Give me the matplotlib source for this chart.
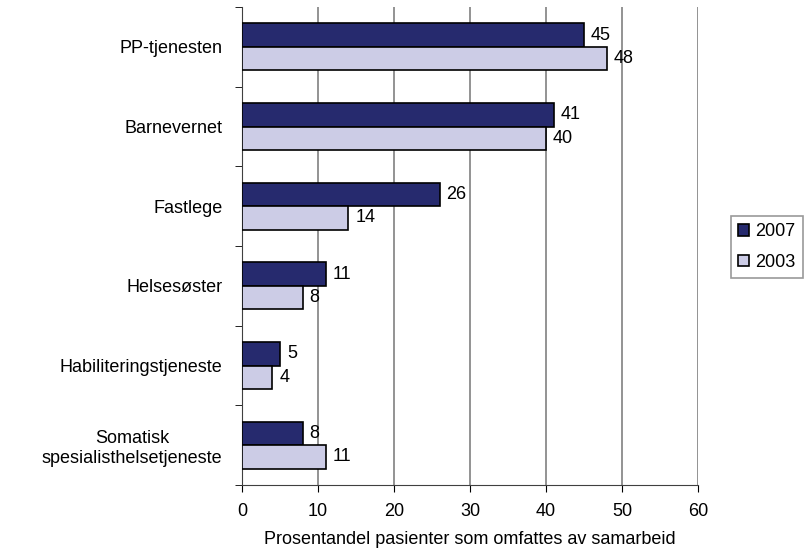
import numpy as np
import matplotlib.pyplot as plt

plt.rcParams['font.family'] = ['Liberation Sans', 'DejaVu Sans']

categories = ['PP-tjenesten', 'Barnevernet', 'Fastlege', 'Helsesøster',
              'Habiliteringstjeneste', 'Somatisk\nspesialisthelsetjeneste']
v2007 = [45, 41, 26, 11, 5, 8]
v2003 = [48, 40, 14, 8, 4, 11]

c2007 = '#262A6E'
c2003 = '#CCCCE6'
FS = 13

fig = plt.figure(figsize=(8.05, 5.56), dpi=100)
ax = fig.add_axes([0.3006, 0.1277, 0.5665, 0.8597])

y = np.arange(len(categories))
h = 0.295
b1 = ax.barh(y - h / 2, v2007, height=h, color=c2007, edgecolor='black', linewidth=1.2, label='2007', zorder=3)
b2 = ax.barh(y + h / 2, v2003, height=h, color=c2003, edgecolor='black', linewidth=1.2, label='2003', zorder=3)

for bars, vals in ((b1, v2007), (b2, v2003)):
    for bar, v in zip(bars, vals):
        ax.annotate(str(v), (v, bar.get_y() + bar.get_height() / 2),
                    xytext=(5, 0), textcoords='offset points',
                    va='center', ha='left', fontsize=FS)

ax.set_xlim(0, 60)
ax.set_ylim(len(categories) - 0.5, -0.5)
ax.set_xticks(range(0, 61, 10))
ax.tick_params(axis='x', labelsize=FS, length=5, pad=8, direction='out')

# category labels at centers, tick marks at boundaries
ax.set_yticks(y)
ax.set_yticklabels(categories, fontsize=FS, multialignment='center')
ax.tick_params(axis='y', which='major', length=0, pad=14)
ax.set_yticks(np.arange(-0.5, len(categories)), minor=True)
ax.tick_params(axis='y', which='minor', length=5, direction='out')

ax.xaxis.grid(True, color='#808080', linewidth=1.2, zorder=0)
for s in ('top', 'right'):
    ax.spines[s].set_visible(False)
ax.spines['left'].set_color('#404040')
ax.spines['bottom'].set_color('#404040')

ax.set_xlabel('Prosentandel pasienter som omfattes av samarbeid', fontsize=FS, labelpad=8)

leg = fig.legend(loc='upper left', bbox_to_anchor=(731 / 805, 1 - 216 / 556), fontsize=FS,
                 frameon=True, fancybox=False, edgecolor='#808080',
                 handlelength=0.6, handleheight=0.6, handletextpad=0.35,
                 borderpad=0.4, labelspacing=0.75, borderaxespad=0)
leg.get_frame().set_linewidth(1.2)

fig.savefig('out.png', dpi=100)
